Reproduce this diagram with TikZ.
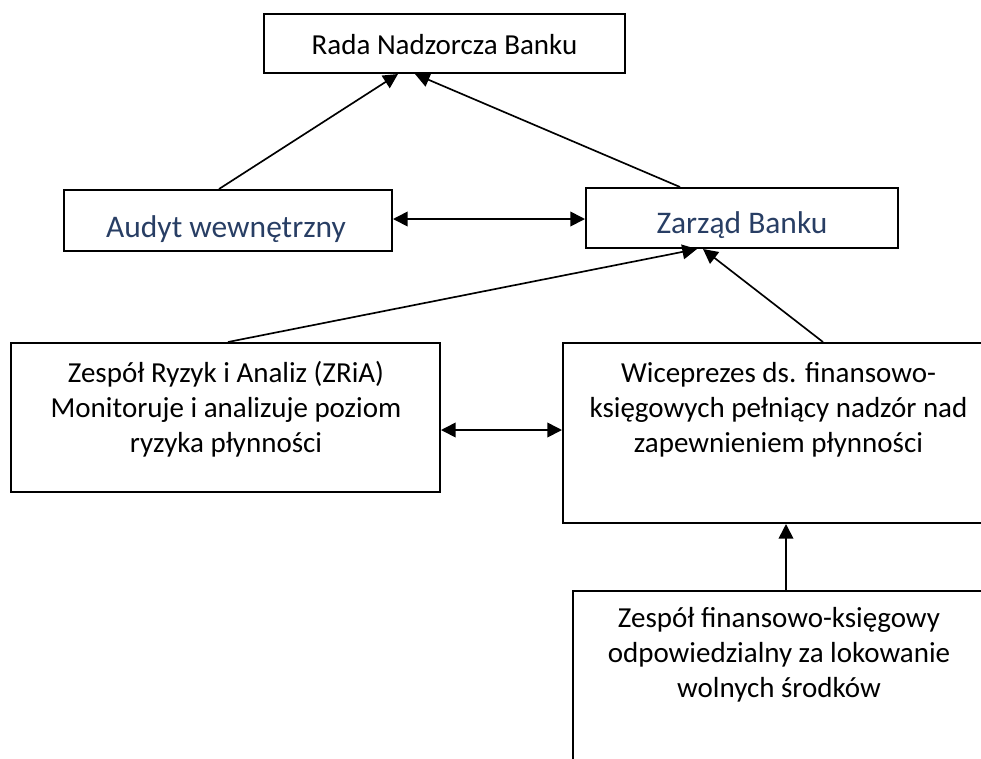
\documentclass[tikz,border=0pt]{standalone}
\usepackage{fontspec}
\setmainfont{Carlito}
\usepackage{tikz}
\usetikzlibrary{arrows.meta,calc}
\definecolor{hdColor}{RGB}{40,62,100}
\newlength\pxu
\setlength\pxu{0.75pt}

\begin{document}
\begin{tikzpicture}[x=0.75pt,y=-0.75pt,
  box/.style={draw,line width=1.5pt,inner sep=0pt},
  conn/.style={line width=1.25pt},
  txt/.style={anchor=base,inner sep=0pt,align=center,font=\fontsize{21.75pt}{26.25pt}\selectfont},
  bigtxt/.style={anchor=base,inner sep=0pt,color=hdColor,font=\fontsize{23.6pt}{28pt}\selectfont},
  >={Triangle[length=11pt,width=11pt]}]
\useasboundingbox (0,0) rectangle (981,758);
\clip (0,0) rectangle (981,758);
% boxes
\node[box,minimum width=361\pxu,minimum height=59\pxu] (rada) at (444.5,43.5) {};
\node[box,minimum width=328\pxu,minimum height=61\pxu] (audyt) at (228,220.5) {};
\node[box,minimum width=312\pxu,minimum height=60\pxu] (zarzad) at (742,218) {};
\node[box,minimum width=429\pxu,minimum height=149\pxu] (zria) at (225.5,417.5) {};
\node[box,minimum width=430\pxu,minimum height=180\pxu] (wice) at (778,433) {};
\node[box,minimum width=412\pxu,minimum height=229\pxu] (zesp) at (779,705.5) {};
% texts (base = last line)
\node[txt] (radaTxt) at ($(rada.north)+(0,41)$) {Rada Nadzorcza Banku};
\node[bigtxt] (audytTxt) at ($(audyt.north)+(-2,48)$) {Audyt wewnętrzny};
\node[bigtxt] (zarzadTxt) at ($(zarzad.north)+(0,46)$) {Zarząd Banku};
\node[txt] (zriaTxt) at ($(zria.north)+(0.5,110)$) {Zespół Ryzyk i Analiz (ZRiA)\\Monitoruje i analizuje poziom\\ryzyka płynności};
\node[txt] (wiceTxt) at ($(wice.north)+(0.5,110)$) {Wiceprezes ds. finansowo-\\księgowych pełniący nadzór nad\\zapewnieniem płynności};
\node[txt] (zespTxt) at ($(zesp.north)+(0,107)$) {Zespół finansowo-księgowy\\odpowiedzialny za lokowanie\\wolnych środków};
% connectors
\draw[->,conn] ($(audyt.north)+(-9,0)$) -- ($(rada.south)+(-46.5,0)$);
\draw[->,conn] ($(zarzad.north)+(-62,0)$) -- ($(rada.south)+(-29.5,0)$);
\draw[<->,conn] ($(audyt.east)+(0,-1.5)$) coordinate (audytR) -- (audytR -| zarzad.west);
\draw[->,conn] ($(zria.north)+(2.5,0)$) -- ($(zarzad.south)+(-45,0)$);
\draw[->,conn] ($(wice.north)+(45,0)$) -- ($(zarzad.south)+(-39,0)$);
\draw[<->,conn] ($(zria.east)+(0,12.5)$) coordinate (zriaR) -- (zriaR -| wice.west);
\draw[->,conn] ($(zesp.north)+(7,0)$) coordinate (zespT) -- (zespT |- wice.south);
\end{tikzpicture}
\end{document}
